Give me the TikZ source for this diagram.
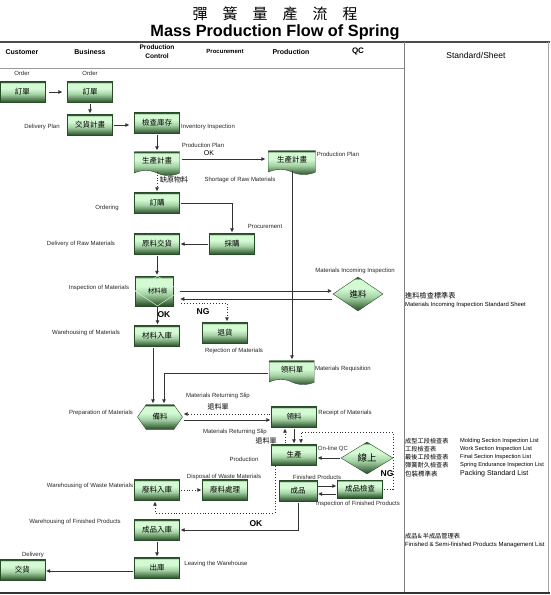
\documentclass[tikz,border=0pt]{standalone}
\usepackage{fontspec}
\setmainfont{Liberation Sans}
\newfontfamily\cjk{Noto Sans CJK TC}
\usepackage{tikz}
\usetikzlibrary{positioning,shapes.geometric,shapes.symbols,arrows.meta,calc}

\definecolor{bxdark}{RGB}{40,76,40}
\definecolor{bxmid}{RGB}{125,178,125}
\definecolor{bxlight}{RGB}{212,250,212}
\colorlet{bxlow}{bxdark!75!bxmid}
\colorlet{bxsoft}{bxmid!55!bxlight}
\pgfdeclareverticalshading{boxshade}{100bp}{%
  color(0bp)=(bxdark); color(25bp)=(bxdark); color(29bp)=(bxlow);
  color(45bp)=(bxsoft); color(58bp)=(bxlight); color(71bp)=(bxlight);
  color(74bp)=(bxdark); color(100bp)=(bxdark)}
\newcommand\lblsize{\fontsize{6}{7}\selectfont}

\begin{document}
\begin{tikzpicture}[
    x=1pt, y=-1pt,
    box/.style={draw=bxdark, line width=0.4pt, shading=boxshade, minimum width=45pt, minimum height=21pt, inner sep=0pt, font=\cjk\fontsize{7.5}{8}\selectfont},
    docbox/.style={box, shape=tape, tape bend top=none, tape bend bottom=out and in, tape bend height=5pt, minimum height=24pt},
    hexbox/.style={box, shape=signal, signal to=west and east, signal pointer angle=110},
    qcbox/.style={box, shape=diamond, font=\cjk\fontsize{8.5}{9}\selectfont},
    lbl/.style={font=\lblsize, text=black!85, inner sep=0pt},
    hdr/.style={font=\bfseries\fontsize{7}{8.5}\selectfont, align=center, inner sep=0pt},
    tag/.style={font=\bfseries\fontsize{8.5}{9}\selectfont, inner sep=0pt},
    flow/.style={-{Triangle[length=4pt,width=3.6pt]}, line width=0.9pt, black!80, shorten >=1pt, shorten <=1pt},
    dotflow/.style={flow, dotted}
]
\useasboundingbox (0,0) rectangle (550,595);

% Frame and column heads
\draw[line width=1.6pt, black!70] (0,42) -- (550,42);
\draw[line width=0.6pt, black!40] (0,68) -- (404,68);
\draw[line width=0.8pt, black!50] (404,42) -- (404,593);
\draw[line width=0.6pt, black!35] (548,42) -- (548,593);
\draw[line width=1.6pt, black!80] (0,593) -- (550,593);

\node[font=\cjk\fontsize{15}{16}\selectfont] (titleCn) at (275,14) {彈\hspace{15pt}簧\hspace{15pt}量\hspace{15pt}產\hspace{15pt}流\hspace{15pt}程};
\node[font=\bfseries\fontsize{16.3}{18}\selectfont] (titleEn) at (275,32) {Mass Production Flow of Spring};

\node[hdr] (hCust) at (22,52) {Customer};
\node[hdr] (hBiz) at (90,52) {Business};
\node[hdr, font=\bfseries\fontsize{6.6}{9}\selectfont] (hCtrl) at (157,52) {Production\\Control};
\node[hdr, font=\bfseries\fontsize{6}{7}\selectfont] (hProc) at (225,51) {Procurement};
\node[hdr] (hProd) at (291,52) {Production};
\node[hdr, font=\bfseries\fontsize{8}{9}\selectfont] (hQC) at (358,51) {QC};
\node[font=\fontsize{8.5}{10}\selectfont] (hStd) at (476,55) {Standard/Sheet};

% Customer and Business
\node[box] (custOrder) at (22.5,92) {訂單};
\node[box] (bizOrder) at (90,92) {訂單};
\node[box] (bizPlan) at (90,125) {交貨計畫};
\node[box] (custDeliv) at (22.5,570) {交貨};

% Production Control
\node[box] (stockChk) at (157,123) {檢查庫存};
\node[docbox] (pcPlan) at (157,161) {生產計畫};
\node[box] (order) at (157,203) {訂購};
\node[box] (rawDeliv) at (157,244) {原料交貨};
\node[box, minimum width=38pt, minimum height=30pt] (matChkBg) at (154,291) {};
\node[diamond, draw=bxlight, line width=0.5pt, minimum width=45pt, minimum height=30pt, inner sep=0pt, font=\cjk\fontsize{6.5}{7}\selectfont] (matChk) at (157.5,291) {材料檢};
\node[box] (matStore) at (157,336) {材料入庫};
\node[hexbox, minimum width=45pt, minimum height=25pt] (prep) at (160,417) {備料};
\node[box] (wasteStore) at (157,490) {廢料入庫};
\node[box] (fgStore) at (157,530) {成品入庫};
\node[box] (leave) at (157,568) {出庫};

% Procurement
\node[box] (purch) at (232,244) {採購};
\node[box] (reject) at (225,333) {退貨};
\node[box] (wasteDisp) at (225,490) {廢料處理};

% Production
\node[docbox, minimum width=47pt] (prodPlan) at (292,160) {生產計畫};
\node[docbox] (reqSlip) at (292,370) {領料單};
\node[box] (receive) at (294,417) {領料};
\node[box] (produce) at (294,455) {生產};
\node[box, minimum width=38pt] (fg) at (298,491) {成品};

% QC
\node[qcbox, minimum width=50pt, minimum height=34pt] (incoming) at (358,294) {進料};
\node[qcbox, minimum width=52pt, minimum height=32pt, font=\cjk\fontsize{9.5}{10}\selectfont] (online) at (367,458) {線上};
\node[box, minimum height=18pt] (fgChk) at (360,489) {成品檢查};
\coordinate (ngTop) at (393,432);
\coordinate (wasteTurn) at (275,513);

% Connectors
\draw[flow, shorten <=4pt, shorten >=5pt] (custOrder) -- (bizOrder);
\draw[flow] (bizOrder) -- (bizPlan);
\draw[flow, shorten >=5pt] (bizPlan.east) -- (bizPlan.east -| stockChk.west);
\draw[flow] (stockChk) -- (pcPlan);
\draw[flow, shorten <=2pt, shorten >=3pt] ([yshift=2pt]pcPlan.east) -- ([yshift=2pt]pcPlan.east -| prodPlan.west);
\draw[dotflow] (pcPlan.south) -- (order.north);
\draw[flow] (order.east) -| (purch.north);
\draw[flow] (purch.west) -- (rawDeliv.east);
\draw[flow] (rawDeliv.south) -- (rawDeliv.south |- matChk.north);
\draw[flow, shorten <=0pt] (matChk.east) -- (matChk.east -| incoming.west);
\draw[flow, shorten >=0pt] ([yshift=-8pt]matChk.east -| incoming.west) -- ([yshift=-8pt]matChk.east);
\draw[dotflow] ([yshift=-12pt]matChk.east) -| ([xshift=2pt]reject.north);
\draw[flow] (matChk.south) -- (matChk.south |- matStore.north);
\draw[flow] ([xshift=-4pt]matStore.south) -- ([xshift=-4pt]matStore.south |- prep.north);
\draw[flow] (prodPlan.south) -- (prodPlan.south |- reqSlip.north);
\draw[flow] ([yshift=-3pt]reqSlip.west) -| ([xshift=4pt]prep.north);
\draw[dotflow] ([yshift=3pt]receive.west) -- ([yshift=3pt]receive.west -| prep.east);
\draw[flow] ([yshift=-3pt]prep.east) -- ([yshift=-3pt]prep.east -| receive.west);
\draw[flow] (receive.south) -- (receive.south |- produce.north);
\draw[dotflow] ([xshift=-9pt]produce.north) -- ([xshift=-9pt]produce.north |- receive.south);
\draw[dotflow] (fgChk.east) -| (ngTop) -| ([xshift=7pt]produce.north);
\draw[flow] (online.west) -- (online.west -| produce.east);
\draw[flow] ([yshift=5pt]fg.east) -- ([yshift=5pt]fg.east -| fgChk.west);
\draw[flow] ([yshift=-3pt]fg.east -| fgChk.west) -- ([yshift=-3pt]fg.east);
\draw[dotflow, shorten <=0pt] (produce.south -| wasteTurn) -- (wasteTurn) -| ([xshift=-2pt]wasteStore.south);
\draw[dotflow] (wasteStore) -- (wasteDisp);
\draw[flow] (fg.south) |- (fgStore.east);
\draw[flow] (fgStore) -- (leave);
\draw[flow] ([yshift=-3pt]leave.west) -- ([yshift=-3pt]leave.west -| custDeliv.east);

% Labels
\node[lbl] (lOrderC) at (22,73) {Order};
\node[lbl] (lOrderB) at (90,73) {Order};
\node[lbl] (lDelPlan) at (42,127) {Delivery Plan};
\node[lbl] (lInv) at (208,127) {Inventory Inspection};
\node[lbl] (lPlanA) at (203,145) {Production Plan};
\node[font=\fontsize{7}{8}\selectfont, inner sep=0pt] (lPlanOK) at (209,153) {OK};
\node[lbl] (lPlanB) at (338,154) {Production Plan};
\node[font=\cjk\fontsize{7}{8}\selectfont, inner sep=0pt] (lShortCn) at (174,180) {缺原物料};
\node[lbl] (lShort) at (240,180) {Shortage of Raw Materials};
\node[lbl] (lOrdering) at (107,208) {Ordering};
\node[lbl] (lProc) at (265,226) {Procurement};
\node[lbl] (lRaw) at (81,244) {Delivery of Raw Materials};
\node[lbl] (lIncoming) at (355,271) {Materials Incoming Inspection};
\node[lbl] (lInspMat) at (99,288) {Inspection of Materials};
\node[tag] (lNGa) at (203,312) {NG};
\node[tag] (lOKa) at (164,315) {OK};
\node[lbl] (lWhMat) at (86,333) {Warehousing of Materials};
\node[lbl] (lReject) at (234,351) {Rejection of Materials};
\node[lbl] (lReq) at (343,369) {Materials Requisition};
\node[lbl] (lRetA) at (218,396) {Materials Returning Slip};
\node[font=\cjk\fontsize{7}{8}\selectfont, inner sep=0pt] (lRetCnA) at (218,407) {退料單};
\node[lbl] (lPrep) at (101,413) {Preparation of Materials};
\node[lbl] (lReceipt) at (345,413) {Receipt of Materials};
\node[lbl] (lRetB) at (235,432) {Materials Returning Slip};
\node[font=\cjk\fontsize{7}{8}\selectfont, inner sep=0pt] (lRetCnB) at (266,441) {退料單};
\node[lbl] (lOnline) at (333,449) {On-line QC};
\node[lbl] (lProduce) at (244,459) {Production};
\node[tag] (lNGb) at (387,474) {NG};
\node[lbl] (lFg) at (317,477) {Finished Products};
\node[lbl] (lDisp) at (224,477) {Disposal of Waste Materials};
\node[lbl] (lWhWaste) at (90,486) {Warehousing of Waste Materials};
\node[lbl] (lFgChk) at (358,504) {Inspection of Finished Products};
\node[lbl] (lWhFg) at (75,522) {Warehousing of Finished Products};
\node[tag] (lOKb) at (256,524) {OK};
\node[lbl] (lDelivery) at (33,555) {Delivery};
\node[lbl] (lLeave) at (216,564) {Leaving the Warehouse};

% Standard sheets
\node[anchor=west, inner sep=0pt, font=\cjk\fontsize{7.2}{8}\selectfont] (sIncCn) at (405,296) {進料檢查標準表};
\node[anchor=west, inner sep=0pt, font=\fontsize{5.9}{7}\selectfont] (sInc) at (405,305) {Materials Incoming Inspection Standard Sheet};
\node[anchor=west, inner sep=0pt, font=\cjk\fontsize{6.2}{7}\selectfont] (sMoldCn) at (405,441) {成型工段檢查表};
\node[anchor=west, inner sep=0pt, font=\fontsize{5.7}{7}\selectfont] (sMold) at (460,441) {Molding Section Inspection List};
\node[anchor=west, inner sep=0pt, font=\cjk\fontsize{6.2}{7}\selectfont] (sWorkCn) at (405,449) {工段檢查表};
\node[anchor=west, inner sep=0pt, font=\fontsize{5.7}{7}\selectfont] (sWork) at (460,449) {Work Section Inspection List};
\node[anchor=west, inner sep=0pt, font=\cjk\fontsize{6.2}{7}\selectfont] (sFinalCn) at (405,457) {最後工段檢查表};
\node[anchor=west, inner sep=0pt, font=\fontsize{5.7}{7}\selectfont] (sFinal) at (460,457) {Final Section Inspection List};
\node[anchor=west, inner sep=0pt, font=\cjk\fontsize{6.2}{7}\selectfont] (sEndCn) at (405,465) {彈簧耐久檢查表};
\node[anchor=west, inner sep=0pt, font=\fontsize{5.7}{7}\selectfont] (sEnd) at (460,465) {Spring Endurance Inspection List};
\node[anchor=west, inner sep=0pt, font=\cjk\fontsize{6.5}{7}\selectfont] (sPackCn) at (405,474) {包裝標準表};
\node[anchor=west, inner sep=0pt, font=\fontsize{7}{8}\selectfont] (sPack) at (460,474) {Packing Standard List};
\node[anchor=west, inner sep=0pt, font=\cjk\fontsize{6.2}{7}\selectfont] (sMgmtCn) at (405,536) {成品\&\,半成品管理表};
\node[anchor=west, inner sep=0pt, font=\fontsize{6}{7}\selectfont] (sMgmt) at (405,545) {Finished \& Semi-finished Products Management List};

\end{tikzpicture}
\end{document}
